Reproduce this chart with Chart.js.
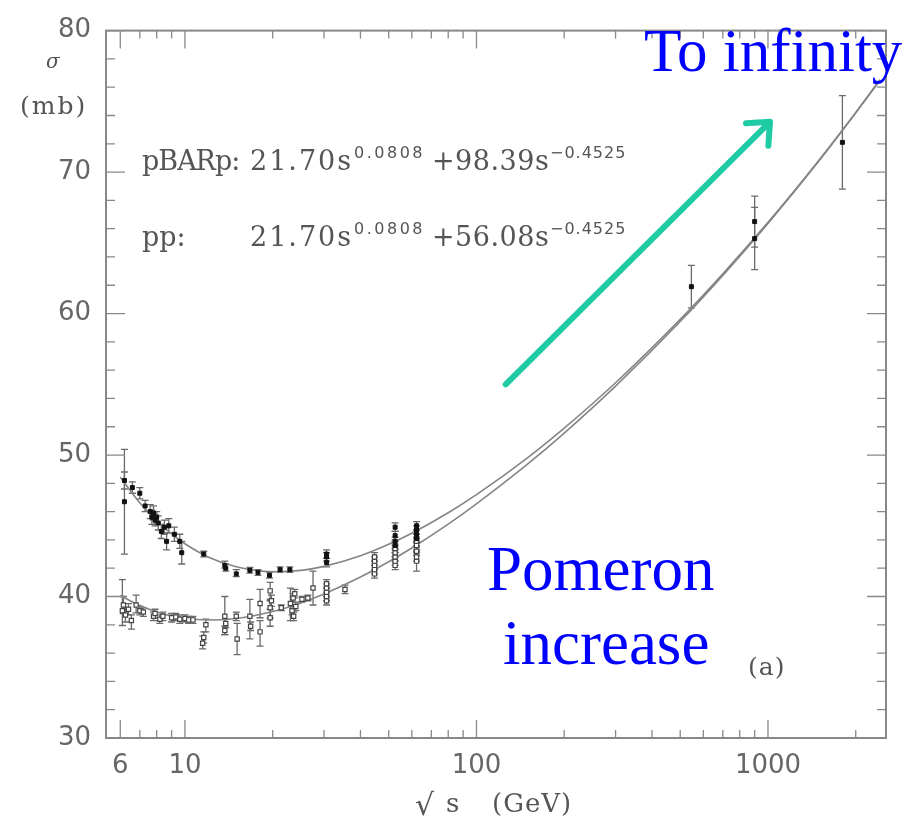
<!DOCTYPE html>
<html>
<head>
<meta charset="utf-8">
<script src="https://cdn.jsdelivr.net/npm/chart.js@4.4.1/dist/chart.umd.min.js"></script>
<style>
  html,body{margin:0;padding:0;background:#fff}
  #wrap{width:918px;height:824px}
</style>
</head>
<body>
<div id="wrap"><canvas id="c"></canvas></div>
<script>
/* ---------- data ---------- */
// fitted curves, sampled at these sqrt(s) values
const curveX    = [6,7,8,9,10,12,15,20,25,30,40,50,60,80,100,150,200,300,500,700,1000,1500,2000,2420];
const pbarCurve = [48.43,46.63,45.35,44.42,43.73,42.80,42.10,41.75,41.85,42.13,42.88,43.69,44.47,45.92,47.20,49.82,51.90,55.11,59.59,62.81,66.45,70.88,74.22,76.52];
const ppCurve   = [40.07,39.36,38.91,38.63,38.46,38.34,38.45,38.94,39.55,40.18,41.38,42.46,43.43,45.12,46.55,49.37,51.55,54.87,59.44,62.70,66.37,70.82,74.18,76.48];

// pBARp measurements (filled squares)
const pbarX  = [6.2,6.2,6.6,7.0,7.3,7.6,7.7,7.8,7.9,8.0,8.1,8.3,8.5,8.65,8.8,9.2,9.6,9.75,11.6,13.7,13.8,15.0,16.7,17.8,19.5,21.2,22.9,30.6,30.6,30.6,52.6,52.6,52.6,52.6,62.3,62.3,62.3,62.3,546,900,900,1800];
const pbarY  = [48.2,46.7,47.7,47.3,46.4,46.0,45.6,45.9,45.4,45.6,45.2,44.6,44.9,43.9,45.0,44.4,43.9,43.1,43.0,42.2,42.0,41.6,41.85,41.7,41.5,41.9,41.9,42.4,42.8,43.0,43.6,43.9,44.3,44.9,44.1,44.4,44.7,45.0,61.9,65.3,66.5,72.1];
const pbarLo = [47.6,43.0,47.3,46.9,46.0,45.5,45.1,45.4,45.0,45.2,44.7,44.1,44.4,43.3,44.5,43.9,43.4,42.3,42.8,42.0,41.8,41.4,41.65,41.5,41.3,41.7,41.7,42.1,42.5,42.7,43.3,43.6,44.0,44.6,43.8,44.1,44.4,44.7,60.4,63.1,64.7,68.8];
const pbarHi = [48.8,50.4,48.1,47.7,46.8,46.5,46.1,46.4,45.8,46.0,45.7,45.1,45.4,44.5,45.5,44.9,44.4,43.9,43.2,42.5,42.3,41.9,42.05,41.9,41.7,42.1,42.1,42.7,43.1,43.3,43.9,44.2,44.6,45.2,44.4,44.7,45.0,45.3,63.4,67.5,68.3,75.4];

// pp measurements (open squares)
const ppX  = [6.1,6.15,6.25,6.4,6.55,6.8,7.0,7.2,7.8,7.9,8.2,8.4,9.0,9.3,9.6,10.0,10.3,10.65,11.5,11.6,11.8,13.7,13.7,13.8,15.0,15.1,16.7,16.8,18.1,18.1,19.6,19.6,19.6,19.8,21.4,23.0,23.3,23.5,23.6,23.8,24.0,25.2,26.4,27.5,30.6,30.6,30.6,30.6,30.6,35.4,44.7,44.7,44.7,44.7,44.7,52.6,52.6,52.6,52.6,52.6,62.3,62.3,62.3,62.3,62.3];
const ppY  = [39.0,39.4,38.7,39.1,38.3,39.4,39.0,38.9,38.6,38.8,38.4,38.6,38.5,38.55,38.4,38.45,38.35,38.35,36.7,37.1,38.0,38.6,37.6,38.1,38.6,37.0,38.6,37.9,39.5,37.5,40.4,39.2,38.5,39.7,39.2,39.5,39.0,39.9,38.6,40.2,39.3,39.8,39.9,40.6,39.7,40.0,40.3,40.6,40.9,40.5,41.6,41.9,42.2,42.5,42.8,42.2,42.5,42.8,43.1,43.4,42.5,42.8,43.2,43.6,43.9];
const ppLo = [37.95,38.8,38.2,38.7,37.7,38.85,38.7,38.6,38.3,38.5,38.1,38.3,38.2,38.3,38.1,38.2,38.1,38.1,36.3,36.7,37.5,37.3,37.3,37.8,38.3,35.9,37.0,37.6,38.5,36.5,39.8,38.5,37.9,39.3,39.0,38.3,38.7,39.6,38.3,39.9,39.0,39.6,39.7,39.4,39.4,39.7,40.0,40.3,40.6,40.2,41.3,41.6,41.9,42.2,42.5,41.9,42.2,42.5,42.8,43.1,41.8,42.5,42.9,43.3,43.6];
const ppHi = [41.2,40.0,39.2,39.5,38.7,40.1,39.3,39.2,38.9,39.1,38.7,38.9,38.8,38.8,38.7,38.7,38.6,38.6,37.2,37.5,38.4,40.0,37.9,38.4,38.9,38.1,39.8,38.2,40.5,38.3,41.0,39.7,39.1,40.1,39.4,40.6,39.3,40.2,38.9,40.5,39.6,40.0,40.1,41.8,40.0,40.3,40.6,40.9,41.2,40.8,41.9,42.2,42.5,42.8,43.1,42.5,42.8,43.1,43.4,43.7,43.2,43.1,43.5,43.9,44.2];

// axes
const xTicks     = [6,7,8,9,10,20,30,40,50,60,70,80,90,100,200,300,400,500,600,700,800,900,1000,2000];
const xLabelled  = [6,10,100,1000];
const yTicks     = [30,32,34,36,38,40,42,44,46,48,50,52,54,56,58,60,62,64,66,68,70,72,74,76,78,80];

/* ---------- helpers ---------- */
const pts = (xs, ys) => xs.map((x,i) => ({x, y:ys[i]}));
const AX  = '#888';
const TXT = '#555';

/* ---------- error bars, drawn through the chart scales ---------- */
const errorBars = {
  id:'errorBars',
  beforeDatasetsDraw(chart){
    const {ctx, scales:{x,y}} = chart;
    ctx.save();
    ctx.strokeStyle = '#6a6a6a'; ctx.lineWidth = 1.3;
    const draw = (xs, lo, hi) => xs.forEach((v,i) => {
      const px = x.getPixelForValue(v), y1 = y.getPixelForValue(lo[i]), y2 = y.getPixelForValue(hi[i]);
      ctx.beginPath();
      ctx.moveTo(px, y1); ctx.lineTo(px, y2);
      ctx.moveTo(px-3.5, y1); ctx.lineTo(px+3.5, y1);
      ctx.moveTo(px-3.5, y2); ctx.lineTo(px+3.5, y2);
      ctx.stroke();
    });
    draw(ppX, ppLo, ppHi);
    draw(pbarX, pbarLo, pbarHi);
    ctx.restore();
  }
};

/* ---------- frame with inward ticks ---------- */
const frame = {
  id:'frame',
  afterDatasetsDraw(chart){
    const {ctx, chartArea:a, scales:{x,y}} = chart;
    ctx.save();
    ctx.strokeStyle = AX; ctx.lineWidth = 2;
    ctx.strokeRect(a.left, a.top, a.right-a.left, a.bottom-a.top);
    ctx.lineWidth = 1.3;
    ctx.beginPath();
    yTicks.forEach(v => {
      const py = y.getPixelForValue(v), L = v % 10 === 0 ? 19 : 9;
      ctx.moveTo(a.left, py);  ctx.lineTo(a.left + L, py);
      ctx.moveTo(a.right, py); ctx.lineTo(a.right - L, py);
    });
    xTicks.forEach(v => {
      const px = x.getPixelForValue(v), L = xLabelled.includes(v) ? 18 : 8;
      ctx.moveTo(px, a.bottom); ctx.lineTo(px, a.bottom - L);
      ctx.moveTo(px, a.top);    ctx.lineTo(px, a.top + L);
    });
    ctx.stroke();
    ctx.restore();
  }
};

/* ---------- texts and the arrow ---------- */
function txt(ctx, s, x, y, font, color, sp){
  ctx.font = font; ctx.fillStyle = color;
  ctx.letterSpacing = (sp || 0) + 'px';
  ctx.fillText(s, x, y);
}
const notes = {
  id:'notes',
  afterDraw(chart){
    const {ctx, scales:{x,y}} = chart;
    ctx.save();
    ctx.textAlign = 'left'; ctx.textBaseline = 'alphabetic';

    // y title
    txt(ctx, 'σ', 46, 68, 'italic 20px "DejaVu Serif"', TXT);
    txt(ctx, '(mb)', 20, 114, '25px "DejaVu Serif"', TXT, 2);

    // x title
    txt(ctx, '√', 415, 815, '30px "DejaVu Serif"', TXT);
    txt(ctx, 's', 446, 812, '26px "DejaVu Serif"', TXT);
    txt(ctx, '(GeV)', 492, 812, '26px "DejaVu Serif"', TXT, 1);

    // fit formulas
    const mf = '27px "DejaVu Serif"', sf = '16px "DejaVu Sans"';
    txt(ctx, 'pBARp:', 142, 170, mf, TXT, -1);
    txt(ctx, '21.70s', 250, 170, mf, TXT, 2);
    txt(ctx, '0.0808', 354, 158, sf, TXT, 2.5);
    txt(ctx, '+98.39s', 432, 170, mf, TXT, 0.5);
    txt(ctx, '\u22120.4525', 550, 158, sf, TXT, 1);
    txt(ctx, 'pp:', 142, 246, mf, TXT, 0);
    txt(ctx, '21.70s', 250, 246, mf, TXT, 2);
    txt(ctx, '0.0808', 354, 234, sf, TXT, 2.5);
    txt(ctx, '+56.08s', 432, 246, mf, TXT, 0.5);
    txt(ctx, '\u22120.4525', 550, 234, sf, TXT, 1);

    txt(ctx, '(a)', 748, 675, '25px "DejaVu Serif"', TXT, 1);

    // green arrow, anchored in data space
    const x0 = x.getPixelForValue(126), y0 = y.getPixelForValue(55.0);
    const x1 = x.getPixelForValue(1016), y1 = y.getPixelForValue(73.55);
    const ang = Math.atan2(y1-y0, x1-x0), h = 24, w = 0.72;
    ctx.strokeStyle = '#1ecba4'; ctx.lineWidth = 6; ctx.lineCap = 'round'; ctx.lineJoin = 'round';
    ctx.beginPath();
    ctx.moveTo(x0, y0); ctx.lineTo(x1, y1);
    ctx.moveTo(x1 - h*Math.cos(ang-w), y1 - h*Math.sin(ang-w));
    ctx.lineTo(x1, y1);
    ctx.lineTo(x1 - h*Math.cos(ang+w), y1 - h*Math.sin(ang+w));
    ctx.stroke();

    // blue annotations
    txt(ctx, 'To infinity', 644, 71, '61px "Liberation Serif"', '#0000ff');
    txt(ctx, 'Pomeron', 487, 590, '63px "Liberation Serif"', '#0000ff');
    txt(ctx, 'increase', 503, 664, '63px "Liberation Serif"', '#0000ff');
    ctx.restore();
  }
};

/* ---------- chart ---------- */
new Chart(document.getElementById('c'), {
  type:'scatter',
  data:{datasets:[
    {data:pts(curveX, pbarCurve), showLine:true, pointRadius:0, borderColor:'#858585', borderWidth:1.6,
     cubicInterpolationMode:'monotone', order:2},
    {data:pts(curveX, ppCurve), showLine:true, pointRadius:0, borderColor:'#858585', borderWidth:1.6,
     cubicInterpolationMode:'monotone', order:2},
    {data:pts(ppX, ppY), pointStyle:'rect', pointRadius:3, backgroundColor:'#fff', borderColor:'#444', borderWidth:1.2, order:1},
    {data:pts(pbarX, pbarY), pointStyle:'rect', pointRadius:2.8, backgroundColor:'#111', borderColor:'#111', borderWidth:1, order:0}
  ]},
  options:{
    responsive:true, maintainAspectRatio:false, animation:false, devicePixelRatio:1,
    layout:{padding:{left:0, top:17, right:32, bottom:0}},
    plugins:{legend:{display:false}, tooltip:{enabled:false}},
    scales:{
      x:{type:'logarithmic', min:5.36, max:2540,
         afterBuildTicks: s => { s.ticks = xTicks.map(v => ({value:v})); },
         afterFit: s => { s.height = 86; },
         ticks:{autoSkip:false, maxRotation:0, padding:13, color:'#666',
                font:{family:'DejaVu Sans', size:26},
                callback: v => xLabelled.includes(v) ? String(v) : ''},
         grid:{display:false, drawTicks:false}, border:{display:false}},
      y:{type:'linear', min:30, max:80,
         afterBuildTicks: s => { s.ticks = yTicks.map(v => ({value:v})); },
         afterFit: s => { s.width = 106; },
         ticks:{autoSkip:false, padding:15, color:'#666',
                font:{family:'DejaVu Sans', size:26},
                callback: v => v % 10 === 0 ? String(v) : ''},
         grid:{display:false, drawTicks:false}, border:{display:false}}
    }
  },
  plugins:[errorBars, frame, notes]
});
</script>
</body>
</html>
